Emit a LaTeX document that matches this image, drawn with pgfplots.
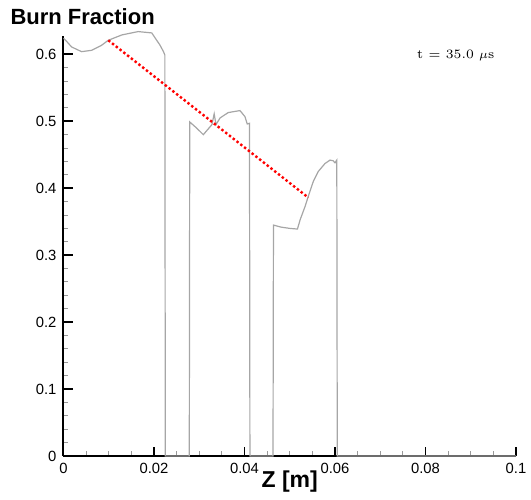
\documentclass[border=0pt]{standalone}
\usepackage{pgfplots}
\pgfplotsset{compat=1.18}
\usepackage{fontspec}
\setsansfont{Liberation Sans}
\begin{document}
\begin{tikzpicture}
\path[use as bounding box] (-31.75pt,-21.5pt) rectangle (233.75pt,228pt);
\begin{axis}[
    at={(0,0)}, anchor=south west,
    scale only axis,
    width=226.25pt, height=210.2pt,
    xmin=0, xmax=0.1,
    ymin=0, ymax=0.628,
    axis x line*=bottom,
    axis y line*=left,
    axis line style={line width=1pt,-},
    tick align=inside,
    major tick length=4.7pt,
    minor tick length=2.5pt,
    major tick style={black,line width=0.9pt},
    minor tick style={gray!80,line width=0.5pt},
    xtick={0,0.02,0.04,0.06,0.08,0.1},
    xticklabels={0,0.02,0.04,0.06,0.08,0.1},
    ytick={0,0.1,0.2,0.3,0.4,0.5,0.6},
    yticklabels={0,0.1,0.2,0.3,0.4,0.5,0.6},
    minor x tick num=3,
    minor y tick num=4,
    tick label style={font=\sffamily\fontsize{7.4}{8}\selectfont},
    xlabel={\sffamily\bfseries\fontsize{11.5}{13}\selectfont Z [m]},
    xlabel style={at={(axis description cs:0.5,-0.075)},anchor=base},
    clip=false,
]
\addplot[gray!70, line width=0.6pt] coordinates {
(0,0.624)(0.0006,0.620)(0.0018,0.611)(0.0040,0.604)(0.0062,0.606)(0.0083,0.613)
(0.0099,0.621)(0.0129,0.629)(0.0165,0.634)(0.0195,0.632)(0.0213,0.614)
(0.0221,0.604)(0.0224,0.599)(0.0225,0)(0.0278,0)(0.0279,0.499)(0.0294,0.490)
(0.0309,0.480)(0.0328,0.495)(0.0333,0.511)(0.0337,0.495)(0.0346,0.505)
(0.0364,0.513)(0.0390,0.516)(0.0401,0.507)(0.0406,0.496)(0.0411,0.497)
(0.0412,0)(0.0463,0)(0.0464,0.345)(0.0480,0.342)(0.0500,0.340)(0.0517,0.339)
(0.0523,0.353)(0.0534,0.373)(0.0541,0.388)(0.0552,0.410)(0.0563,0.425)
(0.0578,0.437)(0.0589,0.442)(0.0596,0.441)(0.0600,0.438)(0.0604,0.442)
(0.0605,0)(0.1,0)
};
\addplot[red, line width=1.2pt, dash pattern=on 1.2pt off 1.2pt] coordinates {
(0.0099,0.621)(0.0541,0.386)
};
\node[anchor=base west, inner sep=0pt, font=\sffamily\bfseries\fontsize{11}{13}\selectfont]
    at (axis cs:-0.0118,0.6447) {Burn Fraction};
\node[anchor=base, inner sep=0pt, font=\fontsize{6.4}{8}\selectfont]
    at (axis cs:0.0867,0.594) {t = 35.0 $\mu$s};
\end{axis}
\end{tikzpicture}
\end{document}
